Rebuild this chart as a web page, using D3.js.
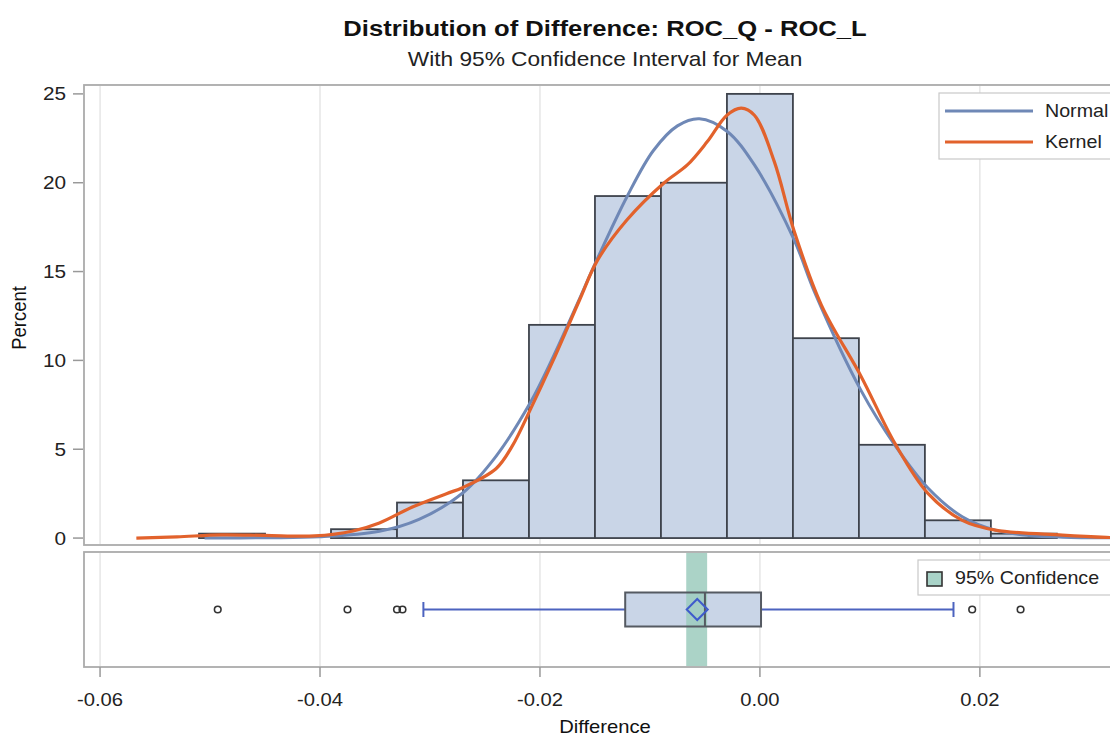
<!DOCTYPE html>
<html>
<head>
<meta charset="utf-8">
<script src="https://cdn.jsdelivr.net/npm/d3@7"></script>
<style>
  body { margin: 0; background: #fff; }
  svg { display: block; font-family: "Liberation Sans", Arial, sans-serif; }
</style>
</head>
<body>
<div id="chart"></div>
<script>
  // histogram bins (left edge) and percent per bin
  var binStart = [-0.051, -0.045, -0.039, -0.033, -0.027, -0.021, -0.015, -0.009, -0.003, 0.003, 0.009, 0.015, 0.021];
  var binPct   = [0.25, 0, 0.5, 2.0, 3.25, 12.0, 19.25, 20.0, 25.0, 11.25, 5.25, 1.0, 0.25];
  var binWidth = 0.006;

  // fitted curves
  var normalX = [-0.0505, -0.045, -0.040, -0.0346, -0.031, -0.027, -0.024, -0.0209, -0.0188, -0.0166, -0.0148, -0.0121, -0.0097, -0.0075, -0.0055, -0.0030, -0.0005, 0.0031, 0.0050, 0.0092, 0.0123, 0.0153, 0.0184, 0.0214, 0.0245, 0.0275, 0.0330];
  var normalY = [0.0, 0.02, 0.07, 0.38, 1.05, 2.55, 4.6, 7.6, 10.2, 13.2, 15.7, 19.2, 21.8, 23.2, 23.6, 22.9, 21.0, 16.8, 13.8, 8.3, 5.2, 2.8, 1.2, 0.45, 0.15, 0.05, 0.01];

  var kernelX = [-0.0567, -0.053, -0.049, -0.045, -0.0405, -0.037, -0.0346, -0.0316, -0.0285, -0.027, -0.024, -0.0225, -0.0209, -0.0188, -0.0164, -0.0148, -0.0121, -0.0087, -0.0066, -0.0048, -0.0030, -0.0017, -0.0005, 0.0013, 0.0031, 0.0056, 0.0092, 0.0123, 0.0153, 0.0184, 0.0214, 0.0275, 0.0315, 0.0340];
  var kernelY = [0.0, 0.07, 0.18, 0.15, 0.12, 0.4, 0.85, 1.75, 2.5, 2.85, 3.9, 5.2, 7.2, 10.0, 13.4, 15.6, 17.9, 20.0, 21.0, 22.3, 23.8, 24.2, 23.8, 21.2, 17.3, 13.1, 9.1, 5.3, 2.5, 1.0, 0.45, 0.17, 0.04, 0.0];

  // box plot stats
  var boxStats = { q1: -0.01225, median: -0.005, q3: 0.0001, mean: -0.0057, lo: -0.0306, hi: 0.0176 };
  var ciMean = [-0.0067, -0.0048];
  var outliers = [-0.0493, -0.0375, -0.033, -0.0325, 0.0193, 0.0237];

  var xTicks = [-0.06, -0.04, -0.02, 0.00, 0.02];
  var yTicks = [0, 5, 10, 15, 20, 25];

  var W = 1110, H = 741;
  var sx = 1.123; // picture is stretched horizontally

  var svg = d3.select("#chart").append("svg")
    .attr("width", W).attr("height", H);

  var x = d3.scaleLinear().domain([-0.06146, 0.03365]).range([84, 1130]);
  var y = d3.scaleLinear().domain([-0.39, 25.5]).range([545, 85]);
  var yb = d3.scaleLinear().domain([0, 1]).range([667, 552]);

  function stretchedText(g, tx, ty, str, size, anchor, weight, fill) {
    return g.append("text")
      .attr("transform", "translate(" + tx + "," + ty + ") scale(" + sx + ",1)")
      .attr("text-anchor", anchor)
      .style("font-size", size + "px")
      .style("font-weight", weight || "normal")
      .style("fill", fill || "#333")
      .text(str);
  }

  // titles
  stretchedText(svg, 605, 36, "Distribution of Difference: ROC_Q - ROC_L", 22.8, "middle", "bold", "#111");
  stretchedText(svg, 605, 66, "With 95% Confidence Interval for Mean", 20.2, "middle", "normal", "#222");

  // clip for panels
  svg.append("clipPath").attr("id", "clipTop")
    .append("rect").attr("x", 84).attr("y", 85).attr("width", 1046).attr("height", 460);

  // ---- upper panel ----
  var upper = svg.append("g");
  upper.selectAll(".grid")
    .data(xTicks).enter().append("line")
    .attr("x1", function (d) { return x(d); }).attr("x2", function (d) { return x(d); })
    .attr("y1", 86).attr("y2", 544)
    .attr("stroke", "#e2e2e2").attr("stroke-width", 1.3);

  var plot = upper.append("g").attr("clip-path", "url(#clipTop)");

  plot.selectAll(".bar")
    .data(binStart.map(function (s, i) { return { s: s, p: binPct[i] }; }).filter(function (d) { return d.p > 0; }))
    .enter().append("rect")
    .attr("x", function (d) { return x(d.s); })
    .attr("width", function (d) { return x(d.s + binWidth) - x(d.s); })
    .attr("y", function (d) { return y(d.p); })
    .attr("height", function (d) { return y(0) - y(d.p); })
    .attr("fill", "#c9d5e7")
    .attr("stroke", "#3e434c")
    .attr("stroke-width", 1.8);

  var line = d3.line()
    .x(function (d) { return x(d[0]); })
    .y(function (d) { return y(d[1]); })
    .curve(d3.curveCatmullRom.alpha(0.5));

  plot.append("path")
    .datum(normalX.map(function (v, i) { return [v, normalY[i]]; }))
    .attr("d", line)
    .attr("fill", "none").attr("stroke", "#6f88b6").attr("stroke-width", 3);

  plot.append("path")
    .datum(kernelX.map(function (v, i) { return [v, kernelY[i]]; }))
    .attr("d", line)
    .attr("fill", "none").attr("stroke", "#e2622c").attr("stroke-width", 3.2);

  upper.append("rect")
    .attr("x", 84).attr("y", 85).attr("width", 1060).attr("height", 460)
    .attr("fill", "none").attr("stroke", "#ababab").attr("stroke-width", 1.8);

  // y axis
  var yAxis = upper.append("g").attr("transform", "translate(83,0)");
  yAxis.selectAll("line")
    .data(yTicks).enter().append("line")
    .attr("x1", -10).attr("x2", 0)
    .attr("y1", function (d) { return y(d); }).attr("y2", function (d) { return y(d); })
    .attr("stroke", "#999").attr("stroke-width", 1.5);
  yTicks.forEach(function (t) {
    stretchedText(yAxis, -17, y(t) + 6.5, String(t), 18.5, "end", "normal", "#222");
  });

  svg.append("text")
    .attr("transform", "translate(26,318) rotate(-90) scale(1," + sx + ")")
    .attr("text-anchor", "middle")
    .style("font-size", "18.5px").style("fill", "#111")
    .text("Percent");

  // legend upper
  var leg = upper.append("g");
  leg.append("rect").attr("x", 939).attr("y", 93).attr("width", 200).attr("height", 66)
    .attr("fill", "#fff").attr("stroke", "#c9c9c9").attr("stroke-width", 1.2);
  leg.append("line").attr("x1", 945).attr("x2", 1033).attr("y1", 111).attr("y2", 111)
    .attr("stroke", "#6f88b6").attr("stroke-width", 3);
  leg.append("line").attr("x1", 945).attr("x2", 1033).attr("y1", 142).attr("y2", 142)
    .attr("stroke", "#e2622c").attr("stroke-width", 3.2);
  stretchedText(leg, 1045, 117, "Normal", 17.5, "start", "normal", "#222");
  stretchedText(leg, 1045, 148, "Kernel", 17.5, "start", "normal", "#222");

  // ---- lower panel ----
  var lower = svg.append("g");
  lower.selectAll(".grid")
    .data(xTicks).enter().append("line")
    .attr("x1", function (d) { return x(d); }).attr("x2", function (d) { return x(d); })
    .attr("y1", 553).attr("y2", 666)
    .attr("stroke", "#e2e2e2").attr("stroke-width", 1.3);

  var bh = 17; // half box height
  var cy = yb(0.5);

  lower.append("rect")
    .attr("x", x(boxStats.q1)).attr("width", x(boxStats.q3) - x(boxStats.q1))
    .attr("y", cy - bh).attr("height", 2 * bh)
    .attr("fill", "#c9d5e7");

  lower.append("rect")
    .attr("x", x(ciMean[0])).attr("width", x(ciMean[1]) - x(ciMean[0]))
    .attr("y", 553).attr("height", 113)
    .attr("fill", "#9ccbbd").attr("fill-opacity", 0.85);

  // whiskers
  lower.append("line").attr("x1", x(boxStats.lo)).attr("x2", x(boxStats.q1))
    .attr("y1", cy).attr("y2", cy).attr("stroke", "#4c63bf").attr("stroke-width", 2);
  lower.append("line").attr("x1", x(boxStats.q3)).attr("x2", x(boxStats.hi))
    .attr("y1", cy).attr("y2", cy).attr("stroke", "#4c63bf").attr("stroke-width", 2);
  [boxStats.lo, boxStats.hi].forEach(function (v) {
    lower.append("line").attr("x1", x(v)).attr("x2", x(v))
      .attr("y1", cy - 7.5).attr("y2", cy + 7.5)
      .attr("stroke", "#4c63bf").attr("stroke-width", 2);
  });

  lower.append("rect")
    .attr("x", x(boxStats.q1)).attr("width", x(boxStats.q3) - x(boxStats.q1))
    .attr("y", cy - bh).attr("height", 2 * bh)
    .attr("fill", "none").attr("stroke", "#555a62").attr("stroke-width", 2);
  lower.append("line").attr("x1", x(boxStats.median)).attr("x2", x(boxStats.median))
    .attr("y1", cy - bh).attr("y2", cy + bh)
    .attr("stroke", "#555a62").attr("stroke-width", 2);

  var mx = x(boxStats.mean);
  lower.append("path")
    .attr("d", "M" + (mx - 10.5) + "," + cy + "L" + mx + "," + (cy - 10.5) + "L" + (mx + 10.5) + "," + cy + "L" + mx + "," + (cy + 10.5) + "Z")
    .attr("fill", "none").attr("stroke", "#3f5bcc").attr("stroke-width", 2);

  lower.selectAll(".out")
    .data(outliers).enter().append("circle")
    .attr("cx", function (d) { return x(d); }).attr("cy", cy)
    .attr("r", 3.3)
    .attr("fill", "none").attr("stroke", "#333").attr("stroke-width", 1.6);

  lower.append("rect")
    .attr("x", 84).attr("y", 552).attr("width", 1060).attr("height", 115)
    .attr("fill", "none").attr("stroke", "#ababab").attr("stroke-width", 1.8);

  // legend lower
  lower.append("rect").attr("x", 918).attr("y", 560).attr("width", 220).attr("height", 35)
    .attr("fill", "#fff").attr("stroke", "#c9c9c9").attr("stroke-width", 1.2);
  lower.append("rect").attr("x", 927).attr("y", 572).attr("width", 15).attr("height", 14)
    .attr("fill", "#a9d3c8").attr("stroke", "#333").attr("stroke-width", 1.6);
  stretchedText(lower, 955, 584, "95% Confidence", 17.5, "start", "normal", "#222");

  // x axis
  var xAxis = svg.append("g");
  xAxis.selectAll("line")
    .data(xTicks).enter().append("line")
    .attr("x1", function (d) { return x(d); }).attr("x2", function (d) { return x(d); })
    .attr("y1", 667).attr("y2", 677)
    .attr("stroke", "#999").attr("stroke-width", 1.5);
  var fmt = d3.format(".2f");
  xTicks.forEach(function (t) {
    stretchedText(xAxis, x(t), 706, fmt(t).replace("\u2212", "-"), 18, "middle", "normal", "#222");
  });
  stretchedText(svg, 605, 733, "Difference", 18, "middle", "normal", "#111");
</script>
</body>
</html>
